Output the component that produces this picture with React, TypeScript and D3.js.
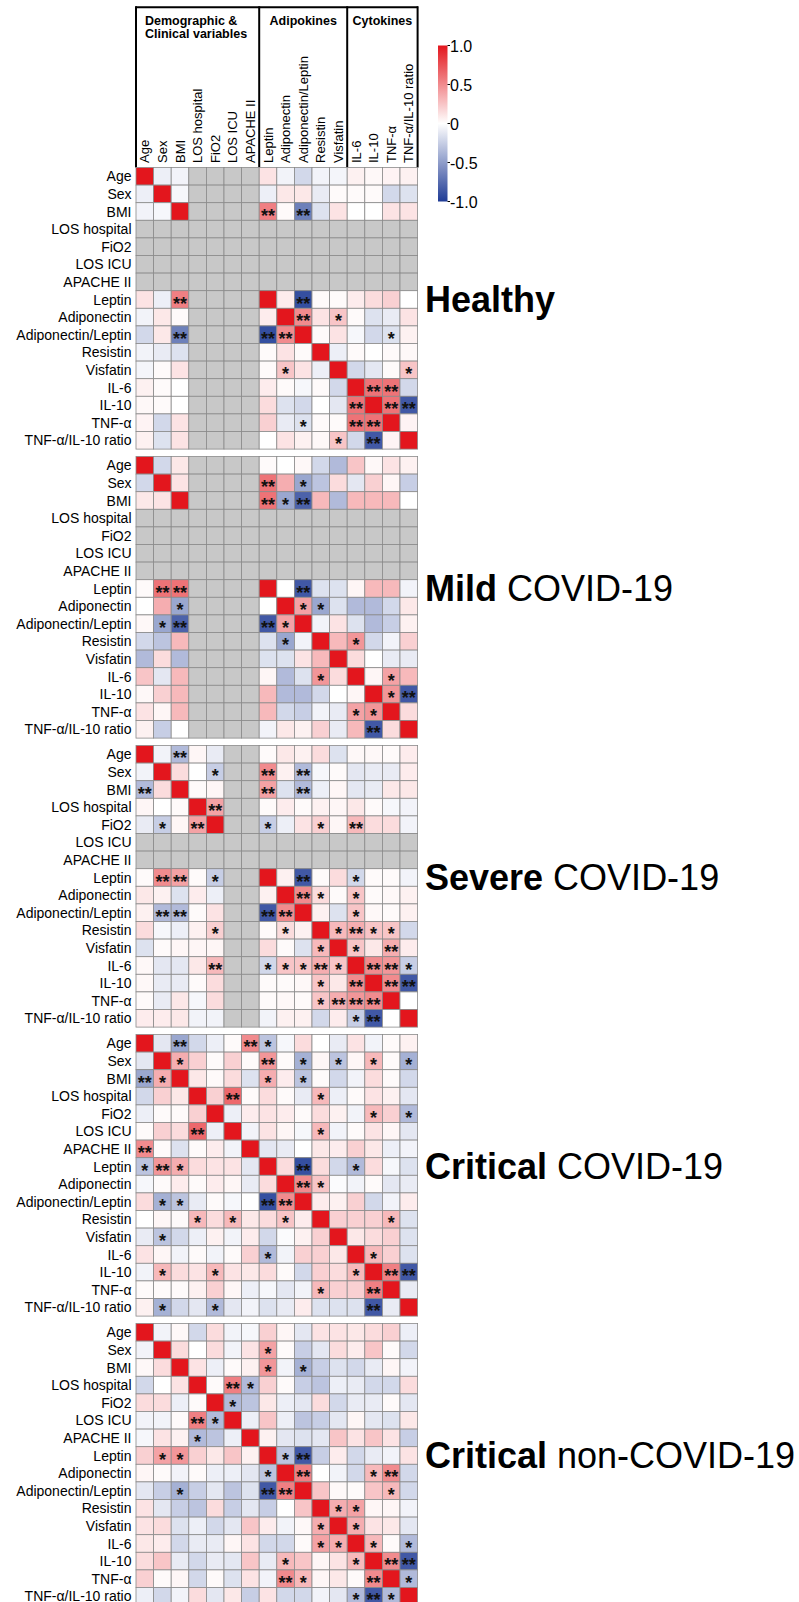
import React from 'react'
import * as d3 from 'd3'

const width = 799
const height = 1602
const N = null

const variables = ['Age', 'Sex', 'BMI', 'LOS hospital', 'FiO2', 'LOS ICU', 'APACHE II', 'Leptin', 'Adiponectin',
  'Adiponectin/Leptin', 'Resistin', 'Visfatin', 'IL-6', 'IL-10', 'TNF-α', 'TNF-α/IL-10 ratio']

const groupTitles = [['Demographic &', 'Clinical variables'], ['Adipokines'], ['Cytokines']]
const groupStart = [0, 7, 12]
const groupEnd = [7, 12, 16]

const panelBold = ['Healthy', 'Mild', 'Severe', 'Critical', 'Critical']
const panelRest = ['', ' COVID-19', ' COVID-19', ' COVID-19', ' non-COVID-19']

const colorTicks = [1.0, 0.5, 0, -0.5, -1.0]
const colorTickLabels = ['1.0', '0.5', '0', '-0.5', '-1.0']

// lower triangles (row i: columns 0..i), null = not available (grey)
const healthy = [
  [1],
  [-0.08, 1],
  [-0.06, -0.04, 1],
  [N, N, N, N],
  [N, N, N, N, N],
  [N, N, N, N, N, N],
  [N, N, N, N, N, N, N],
  [0.12, -0.08, 0.55, N, N, N, N, 1],
  [-0.06, 0.1, 0.02, N, N, N, N, 0.08, 1],
  [-0.2, 0.1, -0.65, N, N, N, N, -0.9, 0.5, 1],
  [-0.06, -0.1, -0.15, N, N, N, N, 0.02, 0.12, 0.02, 1],
  [-0.05, 0.02, 0.12, N, N, N, N, 0.02, 0.25, 0.12, -0.08, 1],
  [0.06, 0.02, 0, N, N, N, N, 0.08, 0.02, -0.04, 0.02, -0.2, 1],
  [0.03, 0.02, 0, N, N, N, N, 0.15, -0.15, -0.2, 0, -0.12, 0.6, 1],
  [0.05, -0.2, 0.12, N, N, N, N, 0.2, -0.1, -0.15, 0.02, 0.02, 0.6, 0.6, 1],
  [0.06, -0.15, 0.12, N, N, N, N, 0, 0.12, 0.06, 0.03, 0.25, -0.2, -0.85, 0.05, 1],
]
const mild = [
  [1],
  [-0.2, 1],
  [0.1, 0.12, 1],
  [N, N, N, N],
  [N, N, N, N, N],
  [N, N, N, N, N, N],
  [N, N, N, N, N, N, N],
  [0.02, 0.6, 0.6, N, N, N, N, 1],
  [0, 0.35, -0.45, N, N, N, N, 0, 1],
  [0.03, -0.45, -0.8, N, N, N, N, -0.85, 0.4, 1],
  [-0.2, -0.3, 0.3, N, N, N, N, -0.15, -0.45, -0.06, 1],
  [-0.35, 0.15, -0.35, N, N, N, N, -0.15, -0.15, 0.12, 0.3, 1],
  [0.25, -0.12, 0.3, N, N, N, N, 0.04, -0.35, -0.15, 0.45, 0.15, 1],
  [0.03, 0.2, 0.3, N, N, N, N, 0.3, -0.35, -0.35, -0.2, 0, 0.04, 1],
  [0.12, 0.04, 0.3, N, N, N, N, 0.3, -0.2, -0.25, -0.06, -0.1, 0.4, 0.45, 1],
  [0.06, -0.25, 0, N, N, N, N, -0.06, 0.1, 0.06, 0.2, -0.1, 0.3, -0.85, 0.15, 1],
]
const severe = [
  [1],
  [-0.06, 1],
  [-0.35, 0.15, 1],
  [0.04, 0, 0.02, 1],
  [-0.1, -0.25, 0.04, 0.4, 1],
  [N, N, N, N, N, N],
  [N, N, N, N, N, N, N],
  [0.02, 0.5, 0.4, 0.02, -0.25, N, N, 1],
  [0.1, 0.06, -0.15, 0.08, -0.08, N, N, 0.06, 1],
  [0.06, -0.35, -0.35, 0.02, 0.12, N, N, -0.85, 0.5, 1],
  [0.15, -0.04, -0.08, 0.06, 0.2, N, N, 0.02, 0.15, 0.06, 1],
  [-0.15, 0.02, 0.04, 0.04, 0.04, N, N, 0.15, 0.02, -0.15, 0.3, 1],
  [0.03, -0.12, -0.12, 0.1, 0.3, N, N, -0.2, 0.25, 0.25, 0.35, 0.25, 1],
  [0.03, -0.1, -0.1, 0.02, 0.15, N, N, 0.02, 0.02, 0.03, 0.25, 0.1, 0.5, 1],
  [0.02, -0.1, 0.1, -0.04, 0.15, N, N, 0.02, 0.03, 0.02, 0.25, 0.35, 0.45, 0.5, 1],
  [0.08, 0.08, 0.1, -0.06, -0.06, N, N, -0.06, 0.06, 0.06, -0.2, 0.08, -0.25, -0.85, 0, 1],
]
const critical = [
  [1],
  [-0.12, 1],
  [-0.45, 0.35, 1],
  [-0.2, 0.2, 0.1, 1],
  [-0.08, 0.02, 0.02, 0.2, 1],
  [0.02, 0.2, 0.15, 0.65, -0.08, 1],
  [0.5, 0.02, -0.15, 0.02, 0.08, -0.06, 1],
  [-0.3, 0.45, 0.35, 0.15, 0.12, 0.12, -0.12, 1],
  [-0.04, 0.02, 0.08, 0.02, 0.08, 0.04, -0.1, 0.15, 1],
  [0.15, -0.4, -0.3, -0.1, 0.02, -0.04, 0, -0.9, 0.5, 1],
  [0, 0.04, 0.02, 0.3, 0.15, 0.3, 0.1, 0.15, 0.25, 0.08, 1],
  [-0.1, -0.3, -0.2, -0.08, 0.06, -0.06, 0.08, -0.2, -0.02, 0.06, 0.2, 1],
  [0.12, 0.04, -0.06, 0.02, -0.06, 0.02, 0.2, -0.35, -0.06, 0.2, 0.2, 0.1, 1],
  [-0.06, 0.3, 0.15, 0.12, 0.3, 0.12, 0.1, 0.15, 0.02, -0.2, 0.2, 0.15, 0.3, 1],
  [0.02, 0.02, 0.02, 0.06, 0.2, 0.04, -0.08, -0.04, -0.12, -0.06, 0.3, 0.2, 0.2, 0.55, 1],
  [0.06, -0.4, -0.2, -0.12, -0.35, -0.12, -0.06, -0.15, -0.1, 0.08, -0.15, -0.15, -0.15, -0.85, -0.1, 1],
]
const nonCovid = [
  [1],
  [-0.06, 1],
  [0.03, 0.15, 1],
  [-0.2, 0, 0.12, 1],
  [0.15, 0.15, -0.08, 0.02, 1],
  [-0.06, -0.06, 0.02, 0.55, -0.35, 1],
  [-0.04, 0.12, 0.06, -0.35, -0.3, -0.08, 1],
  [0.2, 0.4, 0.45, 0.2, 0.1, 0.25, 0.06, 1],
  [0.04, 0.02, -0.06, 0.02, -0.08, -0.08, -0.12, -0.3, 1],
  [-0.12, -0.25, -0.4, -0.25, -0.12, -0.3, -0.15, -0.85, 0.55, 1],
  [0.12, -0.12, -0.25, -0.3, 0.15, -0.25, -0.12, -0.25, 0, 0.25, 1],
  [0.12, 0.15, -0.15, -0.08, -0.2, -0.12, 0.25, 0.08, -0.06, 0.03, 0.35, 1],
  [0.1, 0.08, -0.2, -0.1, -0.1, 0.04, 0.12, -0.2, -0.2, 0.02, 0.4, 0.35, 1],
  [0.15, 0.25, -0.1, -0.2, -0.1, -0.12, 0.25, -0.1, 0.3, 0.25, 0.04, 0.12, 0.3, 1],
  [0.2, 0.02, 0.04, -0.2, 0.02, -0.15, 0.12, -0.06, 0.5, 0.3, 0.04, 0.1, 0.02, 0.5, 1],
  [-0.08, -0.2, -0.06, 0.15, -0.12, 0.1, -0.25, 0.12, -0.2, -0.2, -0.06, -0.12, -0.35, -0.85, -0.35, 1],
]

// significance marks [row, col, number of stars], lower triangle
const healthyStars = [[7, 2, 2], [9, 2, 2], [9, 7, 2], [9, 8, 2], [11, 8, 1], [14, 9, 1], [15, 11, 1],
  [13, 12, 2], [14, 12, 2], [14, 13, 2], [15, 13, 2]]
const mildStars = [[7, 1, 2], [7, 2, 2], [8, 2, 1], [9, 1, 1], [9, 2, 2], [9, 7, 2], [9, 8, 1], [10, 8, 1],
  [12, 10, 1], [14, 12, 1], [14, 13, 1], [15, 13, 2]]
const severeStars = [[2, 0, 2], [4, 1, 1], [4, 3, 2], [7, 1, 2], [7, 2, 2], [7, 4, 1], [9, 1, 2], [9, 2, 2],
  [9, 7, 2], [9, 8, 2], [10, 4, 1], [10, 8, 1], [11, 10, 1], [12, 4, 2], [12, 7, 1], [12, 8, 1], [12, 9, 1],
  [12, 10, 2], [12, 11, 1], [13, 10, 1], [13, 12, 2], [14, 10, 1], [14, 11, 2], [14, 12, 2], [14, 13, 2],
  [15, 12, 1], [15, 13, 2]]
const criticalStars = [[2, 0, 2], [2, 1, 1], [5, 3, 2], [6, 0, 2], [7, 0, 1], [7, 1, 2], [7, 2, 1], [9, 1, 1],
  [9, 2, 1], [9, 7, 2], [9, 8, 2], [10, 3, 1], [10, 5, 1], [10, 8, 1], [11, 1, 1], [12, 7, 1], [13, 1, 1],
  [13, 4, 1], [13, 12, 1], [14, 10, 1], [14, 13, 2], [15, 1, 1], [15, 4, 1], [15, 13, 2]]
const nonCovidStars = [[5, 3, 2], [5, 4, 1], [6, 3, 1], [7, 1, 1], [7, 2, 1], [8, 7, 1], [9, 2, 1], [9, 7, 2],
  [9, 8, 2], [11, 10, 1], [12, 10, 1], [12, 11, 1], [13, 8, 1], [13, 12, 1], [14, 8, 2], [14, 9, 1],
  [14, 13, 2], [15, 12, 1], [15, 13, 2], [15, 14, 1]]

const panels = [healthy, mild, severe, critical, nonCovid]
const panelStars = [healthyStars, mildStars, severeStars, criticalStars, nonCovidStars]

const font = 'Liberation Sans, Arial, Helvetica, sans-serif'
const gridLeft = 136
const gridRight = 417.6
const firstTop = 167.5
const panelH = 281.6
const panelStep = 289

export default function App() {
  const n = variables.length
  const x = d3.scaleBand<number>().domain(d3.range(n)).range([gridLeft, gridRight])
  const bw = x.bandwidth()
  const color = d3.scaleLinear<string>().domain([-1, 0, 1]).range(['#1f3b95', '#ffffff', '#e3161d'])
  const cbY = d3.scaleLinear().domain([1, -1]).range([45.5, 201.5])
  const gradStops = d3.range(0, 1.0001, 0.05)

  const val = (m: (number | null)[][], r: number, c: number) => (r >= c ? m[r][c] : m[c][r])

  return (
    <svg width={width} height={height} style={{position: 'absolute', left: 0, top: 0, background: '#fff'}}
      fontFamily={font}>
      <defs>
        <linearGradient id="cb" x1="0" y1="0" x2="0" y2="1">
          {gradStops.map(t => <stop key={t} offset={t} stopColor={color(1 - 2 * t)} />)}
        </linearGradient>
      </defs>

      {/* header */}
      {groupTitles.map((lines, g) => {
        const x0 = x(groupStart[g])!
        const x1 = x(groupEnd[g] - 1)! + bw
        return (
          <g key={g}>
            {lines.map((t, i) => (
              <text key={t} x={lines.length > 1 ? x0 + 9 : (x0 + x1) / 2} y={24.5 + i * 13.5}
                textAnchor={lines.length > 1 ? 'start' : 'middle'} fontSize={12.5} fontWeight="bold">{t}</text>
            ))}
          </g>
        )
      })}
      <line x1={gridLeft - 0.5} x2={gridRight + 0.5} y1={7.3} y2={7.3} stroke="#000" strokeWidth={2} />
      {[0, 7, 12].map(k => (
        <line key={k} x1={x(k)!} x2={x(k)!} y1={6.3} y2={firstTop} stroke="#000" strokeWidth={2} />
      ))}
      <line x1={gridRight} x2={gridRight} y1={6.3} y2={firstTop} stroke="#000" strokeWidth={2} />
      {variables.map((v, i) => (
        <text key={v} transform={`translate(${x(i)! + bw / 2 + 4.6},${firstTop - 4.5}) rotate(-90)`}
          fontSize={13}>{v}</text>
      ))}

      {/* colour bar */}
      <rect x={438} y={cbY(1)} width={9.5} height={cbY(-1) - cbY(1)} fill="url(#cb)" />
      {colorTicks.map((t, i) => (
        <g key={t}>
          <line x1={447.5} x2={450} y1={cbY(t)} y2={cbY(t)} stroke="#000" strokeWidth={1} />
          <text x={450} y={cbY(t) + 6} fontSize={16}>{colorTickLabels[i]}</text>
        </g>
      ))}

      {panels.map((m, p) => {
        const top = firstTop + p * panelStep
        const y = d3.scaleBand<number>().domain(d3.range(n)).range([top, top + panelH])
        const bh = y.bandwidth()
        const stars = panelStars[p].flatMap(([r, c, k]) => (r === c ? [[r, c, k]] : [[r, c, k], [c, r, k]]))
        return (
          <g key={p}>
            {variables.map((v, r) => (
              <text key={v} x={gridLeft - 4.5} y={y(r)! + bh / 2 + 5} textAnchor="end" fontSize={14}>{v}</text>
            ))}
            {variables.map((_, r) => variables.map((__, c) => {
              const v = val(m, r, c)
              return (
                <rect key={`${r}-${c}`} x={x(c)!} y={y(r)!} width={bw} height={bh}
                  fill={v === null ? '#c8c8c8' : color(v)} stroke="#8a8a8a" strokeWidth={0.8} />
              )
            }))}
            {stars.map(([r, c, k]) => (
              <text key={`s${r}-${c}`} x={x(c)! + bw / 2} y={y(r)! + bh / 2 + 10} textAnchor="middle"
                fontSize={18} fontWeight="bold" fill="#111">{'*'.repeat(k)}</text>
            ))}
            <text x={425} y={top + 144} fontSize={36} style={{whiteSpace: 'pre'}}>
              <tspan fontWeight="bold">{panelBold[p]}</tspan>
              <tspan>{panelRest[p]}</tspan>
            </text>
          </g>
        )
      })}
    </svg>
  )
}
